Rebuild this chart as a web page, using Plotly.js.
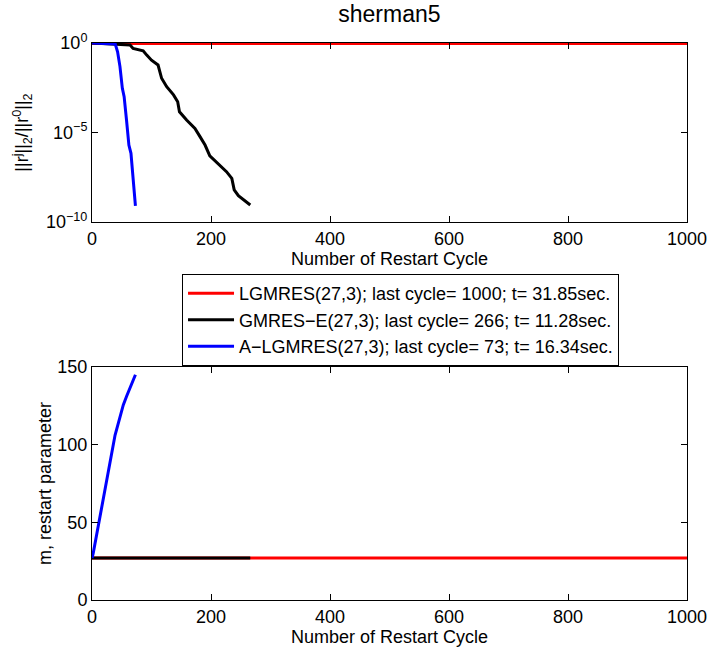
<!DOCTYPE html>
<html>
<head>
<meta charset="utf-8">
<script src="https://cdn.plot.ly/plotly-3.0.1.min.js"></script>
<style>html,body{margin:0;padding:0;background:#fff;}#chart{width:708px;height:649px;}</style>
</head>
<body>
<div id="chart"></div>
<script>
// ---- data ----
var legendNames = [
  "LGMRES(27,3); last cycle= 1000; t= 31.85sec.",
  "GMRES\u2212E(27,3); last cycle= 266; t= 11.28sec.",
  "A\u2212LGMRES(27,3); last cycle= 73; t= 16.34sec."
];
// residual history (top panel)
var lgmresResX = [0, 250, 500, 750, 1000];
var lgmresResY = [0.95, 0.95, 0.95, 0.95, 0.95];
var gmreseResX = [0, 30, 64, 69, 78, 86, 92, 100, 111, 117, 125.5, 137, 144, 147, 159, 173, 181.5, 190, 198, 212, 226, 235, 239, 246, 266];
var gmreseResY = [1, 0.93, 0.78, 0.5, 0.41, 0.37, 0.21, 0.11, 0.059, 0.0107, 3.6e-3, 1.26e-3, 5.2e-4, 1.45e-4, 5e-5, 1.7e-5, 5.9e-6, 2e-6, 5e-7, 1.9e-7, 6.5e-8, 2.75e-8, 6.3e-9, 2.95e-9, 9e-10];
var algmresResX = [0, 10, 20, 30, 39, 43, 47, 51, 54, 58, 62, 65.5, 69.5, 73];
var algmresResY = [1, 0.98, 0.95, 0.93, 0.89, 0.32, 0.048, 2.95e-3, 1e-3, 5e-5, 2e-6, 6.9e-7, 2.2e-8, 8.1e-10];
// restart parameter (bottom panel)
var lgmresMX = [0, 250, 500, 750, 1000];
var lgmresMY = [27, 27, 27, 27, 27];
var gmreseMX = [0, 100, 200, 266];
var gmreseMY = [27, 27, 27, 27];
var algmresMX = [0, 2, 38.7, 44, 52.6, 58, 66, 73];
var algmresMY = [27, 30, 106, 114, 125.6, 131, 138, 145];
// ticks
var xTicks = [0, 200, 400, 600, 800, 1000];
var resTickVals = [1e-10, 1e-5, 1];
var resTickText = ["10<sup>\u221210</sup>", "10<sup>\u22125</sup>", "10<sup>0</sup>"];
var mTicks = [0, 50, 100, 150];

var colors = ["#ff0000", "#000000", "#0000ff"];
var FONT = "Liberation Sans, Arial, Helvetica, sans-serif";

var traces = [
  {x: lgmresResX, y: lgmresResY, xaxis: "x", yaxis: "y", name: legendNames[0], mode: "lines", line: {color: colors[0], width: 3}},
  {x: gmreseResX, y: gmreseResY, xaxis: "x", yaxis: "y", name: legendNames[1], mode: "lines", line: {color: colors[1], width: 3}},
  {x: algmresResX, y: algmresResY, xaxis: "x", yaxis: "y", name: legendNames[2], mode: "lines", line: {color: colors[2], width: 3}},
  {x: lgmresMX, y: lgmresMY, xaxis: "x2", yaxis: "y2", name: legendNames[0], showlegend: false, mode: "lines", line: {color: colors[0], width: 3}},
  {x: gmreseMX, y: gmreseMY, xaxis: "x2", yaxis: "y2", name: legendNames[1], showlegend: false, mode: "lines", line: {color: colors[1], width: 3}},
  {x: algmresMX, y: algmresMY, xaxis: "x2", yaxis: "y2", name: legendNames[2], showlegend: false, mode: "lines", line: {color: colors[2], width: 3}}
];

var axBase = {
  showline: true, linecolor: "#000", linewidth: 1, mirror: "ticks",
  ticks: "inside", ticklen: 6, tickcolor: "#000", tickwidth: 1,
  showgrid: false, zeroline: false,
  tickfont: {family: FONT, size: 18, color: "#000"}
};
function ax(extra) { var o = JSON.parse(JSON.stringify(axBase)); for (var k in extra) o[k] = extra[k]; return o; }

var layout = {
  width: 708, height: 649,
  paper_bgcolor: "#fff", plot_bgcolor: "#fff",
  margin: {l: 92, r: 21, t: 43, b: 49},
  font: {family: FONT, size: 18, color: "#000"},
  title: {text: "sherman5", font: {family: FONT, size: 23, color: "#000"}, x: 0.55, xanchor: "center", y: 0.978, yanchor: "middle"},
  xaxis: ax({domain: [0, 1], anchor: "y", range: [0, 1000], tickvals: xTicks,
    title: {text: "Number of Restart Cycle", font: {family: FONT, size: 18}, standoff: 2}}),
  yaxis: ax({domain: [0.6786, 1], anchor: "x", type: "log", range: [-10, 0], tickvals: resTickVals, ticktext: resTickText,
    title: {text: "||r<sup>j</sup>||<sub>2</sub>/||r<sup>0</sup>||<sub>2</sub>", font: {family: FONT, size: 18}, standoff: 12}}),
  xaxis2: ax({domain: [0, 1], anchor: "y2", range: [0, 1000], tickvals: xTicks,
    title: {text: "Number of Restart Cycle", font: {family: FONT, size: 18}, standoff: 2}}),
  yaxis2: ax({domain: [0, 0.4183], anchor: "x2", range: [0, 150], tickvals: mTicks,
    title: {text: "m, restart parameter", font: {family: FONT, size: 18}, standoff: 1}}),
  showlegend: true,
  legend: {
    x: 0.1513, xanchor: "left", y: 0.585, yanchor: "top",
    bgcolor: "#fff", bordercolor: "#000", borderwidth: 1,
    font: {family: FONT, size: 18, color: "#000"},
    itemwidth: 46
  }
};

Plotly.newPlot("chart", traces, layout, {displayModeBar: false, staticPlot: true});
</script>
</body>
</html>
